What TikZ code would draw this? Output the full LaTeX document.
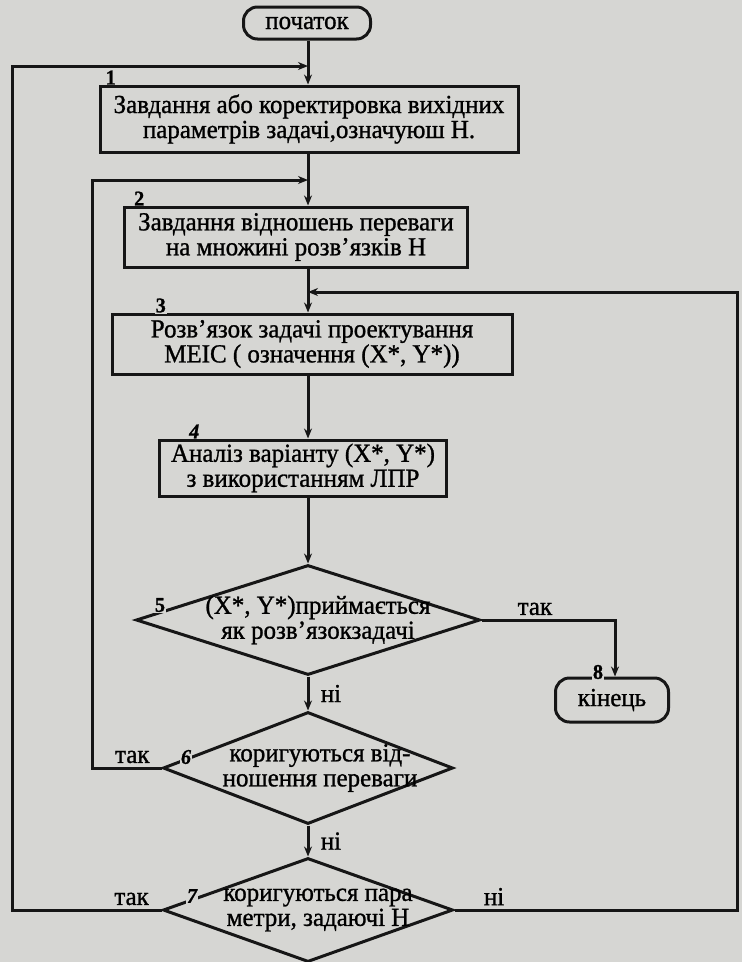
\documentclass[tikz,border=0pt]{standalone}
\usepackage{fontspec}
\setmainfont{Liberation Serif}[FakeStretch=0.96, FakeBold=1]
\usetikzlibrary{shapes.geometric,arrows.meta}
\definecolor{papir}{RGB}{214,214,211}
\definecolor{chorn}{RGB}{22,22,22}
\tikzset{
  lin/.style={draw=chorn, line width=3pt},
  strilka/.style={lin, -{Stealth[length=10pt,width=8pt]}},
  blok/.style={lin, rectangle, inner sep=0pt, align=center, font=\fontsize{26}{25}\selectfont},
  kinec/.style={lin, rectangle, rounded corners=14pt, inner sep=0pt, font=\fontsize{26}{25}\selectfont},
  romb/.style={lin, diamond, inner sep=0pt},
  tekst/.style={align=center, inner sep=0pt, font=\fontsize{26}{25}\selectfont},
  nomer/.style={fill=papir, inner sep=1pt, font=\fontsize{21}{21}\selectfont\bfseries},
  pidpys/.style={font=\fontsize{26}{26}\selectfont}
}

\begin{document}
\begin{tikzpicture}[x=1pt,y=-1pt] %Блок-схема проектування МЕІС
            \useasboundingbox (0,0) rectangle (742,962);
            \clip (0,0) rectangle (742,962);
            \fill[papir] (0,0) rectangle (742,962);

            \node[kinec, minimum width=127pt, minimum height=32pt] (pochatok) at (307,23) {початок};
            \node[blok, minimum width=418pt, minimum height=66pt] (b1) at (309,119) {Завдання або коректировка вихідних\\параметрів задачі,означуюш Н.};
            \node[blok, minimum width=343pt, minimum height=60pt] (b2) at (296,237) {Завдання відношень переваги\\на множині розв'язків Н};
            \node[blok, minimum width=400pt, minimum height=60pt] (b3) at (312,344) {Розв’язок задачі проектування\\МЕІС ( означення (X*, Y*))};
            \node[blok, minimum width=287pt, minimum height=56pt] (b4) at (303,468) {Аналіз варіанту (X*, Y*)\\з використанням ЛПР};
            \node[romb, minimum width=344pt, minimum height=110pt] (d5) at (308,620) {};
            \node[tekst] (t5) at (318,620) {(X*, Y*)приймається\\як розв'язокзадачі};
            \node[kinec, minimum width=113pt, minimum height=44pt] (kinec) at (612,700) {кінець};
            \node[romb, minimum width=290pt, minimum height=112pt] (d6) at (308,768) {};
            \node[tekst] (t6) at (320,768) {коригуються від-\\ношення переваги};
            \node[romb, minimum width=290pt, minimum height=104pt] (d7) at (308,910) {};
            \node[tekst] (t7) at (318,910) {коригуються пара\\метри, задаючі Н};

            \node[nomer, anchor=west, yshift=7pt] (n1) at ([xshift=6pt]b1.north west) {1};
            \node[nomer, anchor=west, yshift=7pt] (n2) at ([xshift=10pt]b2.north west) {2};
            \node[nomer, anchor=west, yshift=7pt] (n3) at ([xshift=44pt]b3.north west) {3};
            \node[nomer, anchor=west, yshift=7pt, font=\fontsize{21}{21}\selectfont\bfseries\itshape] (n4) at ([xshift=30pt]b4.north west) {4};
            \node[nomer] (n5) at (160,605) {5};
            \node[nomer, font=\fontsize{21}{21}\selectfont\bfseries\itshape] (n6) at (186,757) {6};
            \node[nomer, font=\fontsize{21}{21}\selectfont\bfseries\itshape] (n7) at (192,896) {7};
            \node[nomer, yshift=6pt] (n8) at (598,678) {8};

            \coordinate (v1) at (308,66);
            \coordinate (v2) at (308,180);
            \coordinate (v3) at (308,292);
            \coordinate (k1) at (12,66);
            \coordinate (k2) at (92,180);
            \coordinate (k3) at (737,292);

            \draw[strilka] (pochatok.south -| v1) -- (b1.north -| v1);
            \draw[strilka] (b1.south -| v2) -- (b2.north -| v2);
            \draw[strilka] (b2.south -| v3) -- (b3.north -| v3);
            \draw[strilka] (b3.south -| v3) -- (b4.north -| v3);
            \draw[strilka] (b4.south -| v3) -- (d5.north);
            \draw[strilka] (d5.east) -| node[pidpys, above, pos=0.2]{так} ([xshift=3pt]kinec.north);
            \draw[strilka] (d5.south) -- node[pidpys, right=8pt]{ні} (d6.north);
            \draw[strilka] (d6.south) -- node[pidpys, right=8pt]{ні} (d7.north);
            \draw[strilka] (d6.west) -| node[pidpys, above, pos=0.21]{так} (k2) -- (v2);
            \draw[strilka] (d7.west) -| node[pidpys, above, pos=0.1]{так} (k1) -- (v1);
            \draw[strilka] (d7.east) -| node[pidpys, above, pos=0.07]{ні} (k3) -- (v3);
        \end{tikzpicture}
\end{document}
